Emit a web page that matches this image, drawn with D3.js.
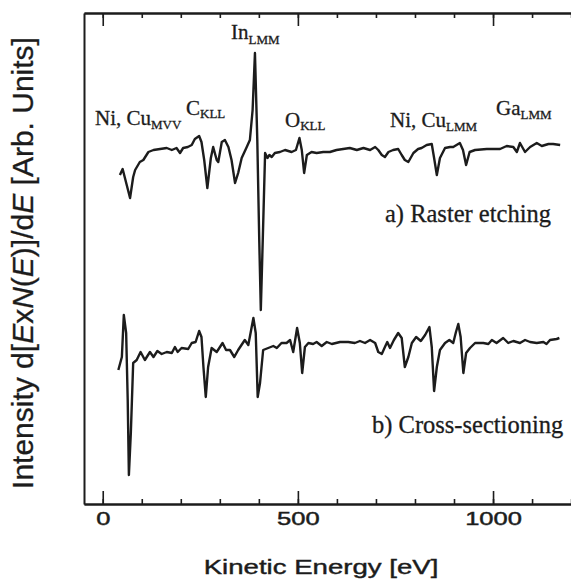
<!DOCTYPE html>
<html>
<head>
<meta charset="utf-8">
<script src="https://cdn.jsdelivr.net/npm/d3@7"></script>
<style>
  html, body { margin: 0; padding: 0; background: #fff; }
  svg { display: block; }
</style>
</head>
<body>
<svg id="chart" width="571" height="581"></svg>
<script>
// ---- Data (arbitrary intensity units) ----
const energyA = [44,51,70,78,83,95,104,117,130,147,164,177,189,198,206,218,228,236,247,253,260,268,277,283,292,296,305,313,322,330,339,347,356,369,377,384,390,396,401,405,410,416,422,427,433,441,454,467,484,495,504,510,516,523,535,548,565,582,599,616,633,651,668,685,698,706,715,723,732,744,757,766,774,783,796,808,817,830,843,849,856,864,877,890,898,915,923,931,940,954,984,1018,1035,1052,1061,1069,1082,1095,1112,1125,1142,1154,1172];
const intensityA = [329,335,306,327,334,342,344,352,354,355,356,354,356,351,356,357,359,365,368,362,344,316,346,357,344,342,362,364,357,344,321,331,346,357,364,394,451,364,264,194,264,351,346,349,347,351,352,354,352,354,366,354,331,349,352,351,352,352,354,355,356,354,356,354,357,354,349,347,352,354,355,349,344,342,351,355,356,359,360,346,329,346,356,357,357,361,354,339,352,354,355,355,358,357,352,361,352,357,361,358,360,360,359];

const energyB = [40,49,54,60,64,67,72,78,87,97,108,121,130,140,151,164,177,185,192,202,219,228,238,247,253,258,264,270,279,292,307,316,326,337,347,364,373,386,392,397,403,411,424,437,446,458,471,480,488,498,505,511,518,527,539,548,561,574,587,608,629,646,659,672,685,698,706,715,723,729,736,746,757,766,774,783,792,803,815,826,837,843,849,856,864,877,888,898,905,911,917,924,931,941,954,975,988,997,1009,1026,1039,1052,1069,1082,1095,1112,1129,1137,1146,1163,1170];
const intensityB = [134,147,189,171,104,29,71,141,144,152,144,152,147,153,150,152,151,157,152,156,155,161,162,173,167,137,107,137,156,152,161,154,154,147,154,164,159,186,171,107,121,154,156,158,156,161,161,164,152,176,161,131,157,161,160,162,158,162,160,162,162,161,163,161,164,161,152,150,157,162,156,164,171,166,137,147,161,167,163,169,177,157,113,137,154,161,164,161,172,180,167,131,151,156,161,161,160,164,161,166,161,163,161,164,162,161,162,160,164,165,166];

const majorTicks = [0, 500, 1000];
const minorTicks = [0,100,200,300,400,500,600,700,800,900,1000,1100,1200];
const tickLabels = ["0", "500", "1000"];

const peakLabels = [
  { main: "Ni, Cu", sub: "MVV", x: 95,  y: 125, subDy: 4 },
  { main: "C",      sub: "KLL", x: 186, y: 115, subDy: 3 },
  { main: "In",     sub: "LMM", x: 231, y: 39,  subDy: 5 },
  { main: "O",      sub: "KLL", x: 285, y: 127, subDy: 3 },
  { main: "Ni, Cu", sub: "LMM", x: 390, y: 127, subDy: 4 },
  { main: "Ga",     sub: "LMM", x: 496, y: 115, subDy: 4 }
];
const seriesLabels = ["a) Raster etching", "b) Cross-sectioning"];

// ---- Layout ----
const svg = d3.select("#chart");
const plotLeft = 84, plotTop = 13, plotBottom = 504;
const x = d3.scaleLinear().domain([-48, 1250]).range([plotLeft, plotLeft + 1298 * 0.3903]);
const y = d3.scaleLinear().domain([0, 491]).range([plotBottom, plotTop]);
const ink = "#1c1c1c";
const sans = "'Liberation Sans', Arial, sans-serif";
const serif = "'Liberation Serif', 'Times New Roman', serif";

// Frame: bottom axis (major + minor inward ticks, labels)
const gB = svg.append("g").attr("transform", `translate(0,${plotBottom})`);
gB.call(d3.axisBottom(x).tickValues(minorTicks).tickSizeInner(-5).tickSizeOuter(0).tickFormat(""));
const gBM = svg.append("g").attr("transform", `translate(0,${plotBottom})`);
gBM.call(d3.axisBottom(x).tickValues(majorTicks).tickSizeInner(-13).tickSizeOuter(0)
  .tickFormat((d, i) => tickLabels[i]));
gBM.selectAll("text")
  .attr("y", 21).attr("dy", 0)
  .attr("transform", "scale(1.38,1)")
  .style("font-family", sans)
  .style("font-size", "18.5px")
  .attr("fill", ink)
  .attr("stroke", ink).attr("stroke-width", 0.45);

// Top axis (ticks pointing down, no labels)
const gT = svg.append("g").attr("transform", `translate(0,${plotTop})`);
gT.call(d3.axisTop(x).tickValues(minorTicks).tickSizeInner(-5).tickSizeOuter(0).tickFormat(""));
const gTM = svg.append("g").attr("transform", `translate(0,${plotTop})`);
gTM.call(d3.axisTop(x).tickValues(majorTicks).tickSizeInner(-13).tickSizeOuter(0).tickFormat(""));

// Left axis line (no ticks)
const gL = svg.append("g").attr("transform", `translate(${plotLeft},0)`);
gL.call(d3.axisLeft(y).tickValues([]).tickSizeOuter(0));

svg.selectAll(".domain").attr("stroke", ink).attr("stroke-width", 2);
svg.selectAll(".tick line").attr("stroke", ink).attr("stroke-width", 1.6);

// Spectra
const line = d3.line().x(d => x(d[0])).y(d => y(d[1]));
const dataA = energyA.map((e, i) => [e, intensityA[i]]);
const dataB = energyB.map((e, i) => [e, intensityB[i]]);
[dataA, dataB].forEach(data => {
  svg.append("path").datum(data)
    .attr("d", line)
    .attr("fill", "none")
    .attr("stroke", ink)
    .attr("stroke-width", 2.4)
    .attr("stroke-linejoin", "round");
});

// Peak labels (serif, with subscripts)
peakLabels.forEach(p => {
  const t = svg.append("text")
    .attr("x", p.x).attr("y", p.y)
    .style("font-family", serif)
    .style("font-size", "21px")
    .attr("fill", ink)
    .attr("stroke", ink).attr("stroke-width", 0.3);
  t.append("tspan").text(p.main);
  t.append("tspan").attr("dy", p.subDy).style("font-size", "13px").text(p.sub);
});

// Series labels
svg.append("text").attr("x", 385).attr("y", 222)
  .style("font-family", serif).style("font-size", "24.5px").attr("fill", ink)
  .attr("stroke", ink).attr("stroke-width", 0.3)
  .text(seriesLabels[0]);
svg.append("text").attr("x", 372).attr("y", 433)
  .style("font-family", serif).style("font-size", "24.5px").attr("fill", ink)
  .attr("stroke", ink).attr("stroke-width", 0.3)
  .text(seriesLabels[1]);

// X axis title
svg.append("text")
  .attr("transform", "translate(321,574) scale(1.38,1)")
  .attr("text-anchor", "middle")
  .style("font-family", sans)
  .style("font-size", "20px")
  .attr("fill", ink)
  .attr("stroke", ink).attr("stroke-width", 0.4)
  .text("Kinetic Energy [eV]");

// Y axis title (with italic parts)
const yt = svg.append("text")
  .attr("transform", "translate(33,263) rotate(-90)")
  .attr("text-anchor", "middle")
  .style("font-family", sans)
  .style("font-size", "30px")
  .attr("fill", ink)
  .attr("stroke", ink).attr("stroke-width", 0.3);
[["Intensity d[", false], ["E", true], ["x", false], ["N", true], ["(", false], ["E", true],
 [")]/d", false], ["E", true], [" [Arb. Units]", false]].forEach(([s, it]) => {
  yt.append("tspan").style("font-style", it ? "italic" : "normal").text(s);
});
</script>
</body>
</html>
